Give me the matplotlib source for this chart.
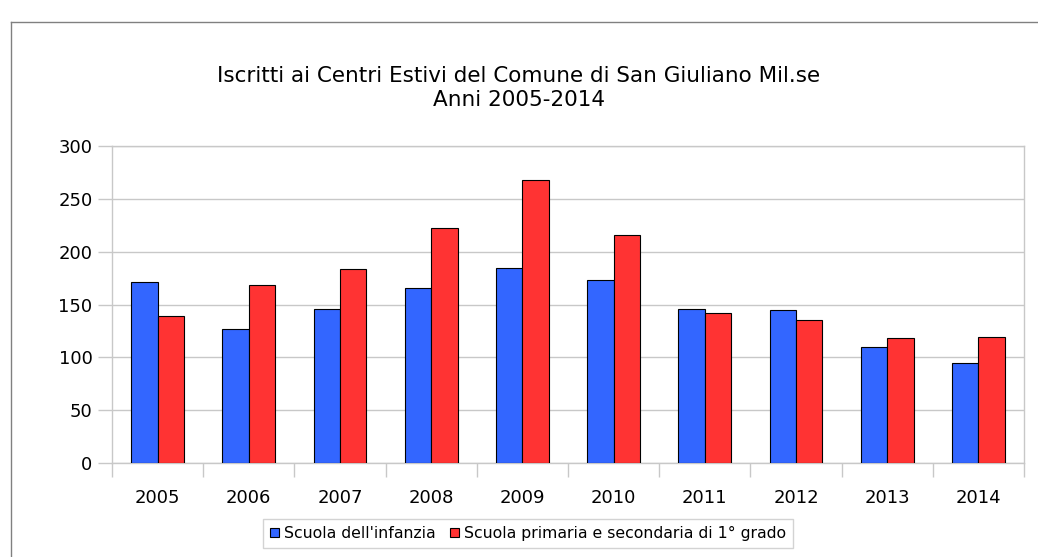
import numpy as np
import matplotlib
matplotlib.use("Agg")
from matplotlib import pyplot as plt
from matplotlib.lines import Line2D

anni = ["2005", "2006", "2007", "2008", "2009", "2010", "2011", "2012", "2013", "2014"]
infanzia = [171, 127, 146, 166, 185, 173, 146, 145, 110, 95]
primaria = [139, 168, 184, 222, 268, 216, 142, 135, 118, 119]
etichette = ["Scuola dell'infanzia", "Scuola primaria e secondaria di 1° grado"]

W, H = 1038, 557
fig = plt.figure(figsize=(W / 100, H / 100), dpi=100)
# assi in pixel: sinistra 112, destra 1024, alto 146, basso 463
ax = fig.add_axes([112 / W, 1 - 463 / H, (1024 - 112) / W, (463 - 146) / H])

x = np.arange(len(anni))
w = 0.29
ax.bar(x - w / 2, infanzia, w, color="#3366ff", edgecolor="black", linewidth=0.8,
       label=etichette[0], zorder=3)
ax.bar(x + w / 2, primaria, w, color="#ff3333", edgecolor="black", linewidth=0.8,
       label=etichette[1], zorder=3)

ax.set_xlim(-0.5, len(anni) - 0.5)
ax.set_ylim(0, 300)
ax.set_yticks(range(0, 301, 50))
ax.yaxis.grid(True, color="#c8c8c8", linewidth=1, zorder=0)

# tacche sull'asse x ai bordi delle categorie
ax.set_xticks(np.arange(-0.5, len(anni), 1.0))
ax.set_xticklabels([])
ax.set_xticks(x, minor=True)
ax.set_xticklabels(anni, minor=True)
ax.tick_params(axis="x", which="major", length=10, width=1, color="#c8c8c8")
ax.tick_params(axis="x", which="minor", length=0, pad=19, labelsize=13)
ax.tick_params(axis="y", length=10, width=1, color="#c8c8c8", pad=4, labelsize=13)
for s in ax.spines.values():
    s.set_color("#c8c8c8")
    s.set_linewidth(1)

fig.text(0.5, 1 - 88 / H, "Iscritti ai Centri Estivi del Comune di San Giuliano Mil.se\nAnni 2005-2014",
         ha="center", va="center", fontsize=15.5, linespacing=1.3)

leg = fig.legend(loc="center", bbox_to_anchor=(528 / W, 1 - 533.5 / H), ncol=2,
                 fontsize=11.3, frameon=True, fancybox=False, edgecolor="#c8c8c8",
                 handlelength=0.57, handleheight=0.57, handletextpad=0.36,
                 columnspacing=0.87, borderpad=0.45, borderaxespad=0)
leg.get_frame().set_linewidth(1)
for h in leg.legend_handles:
    h.set_linewidth(0.8)

# cornice grigia in alto e a sinistra
fig.add_artist(Line2D([11 / W, 11 / W], [0, 1 - 22 / H], transform=fig.transFigure,
                      color="#808080", linewidth=1))
fig.add_artist(Line2D([11 / W, 1], [1 - 22 / H, 1 - 22 / H], transform=fig.transFigure,
                      color="#808080", linewidth=1))

fig.savefig("out.png", dpi=100)
